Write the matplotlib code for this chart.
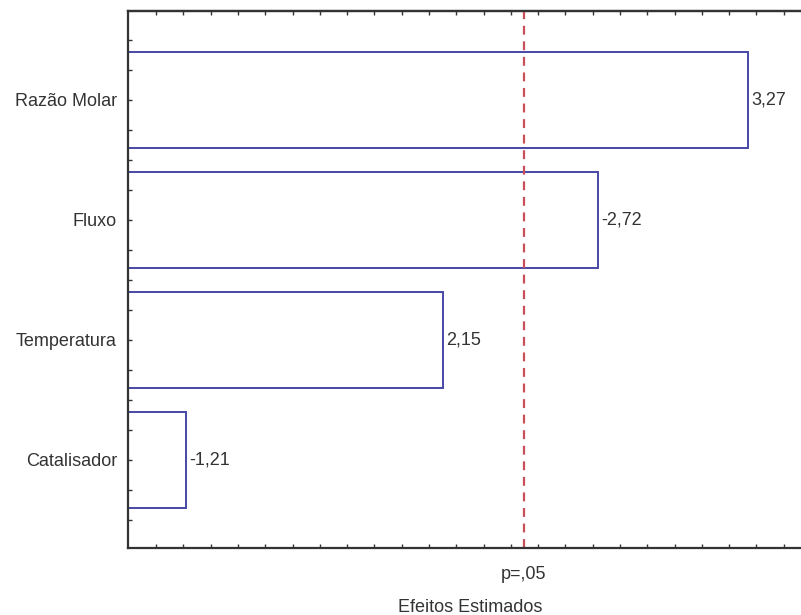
import numpy as np
import matplotlib.pyplot as plt
from matplotlib.ticker import MultipleLocator

# data
fatores = ["Razão Molar", "Fluxo", "Temperatura", "Catalisador"]
efeitos = [3.27, -2.72, 2.15, -1.21]
t_crit = 2.447  # p=,05
rotulos = ["3,27", "-2,72", "2,15", "-1,21"]

plt.rcParams["font.family"] = ["Liberation Sans", "DejaVu Sans"]
txt = "#333333"
fs = 13

fig = plt.figure(figsize=(8.01, 6.15), dpi=100)
ax = fig.add_axes([0.1598, 0.1089, 0.8390, 0.8732])

y = np.arange(len(fatores))
ax.barh(y, np.abs(efeitos), height=0.8, left=0, color="white",
        edgecolor="#4646a6", linewidth=1.4)
for yi, v, lab in zip(y, efeitos, rotulos):
    ax.text(abs(v) + 0.012, yi, lab, va="center", ha="left", fontsize=fs, color=txt)

ax.axvline(t_crit, color="#c9505a", linestyle=(0, (4, 3)), linewidth=1.6)

ax.set_xlim(0.997, 3.46)
ax.set_ylim(3.735, -0.74)

ax.set_yticks(y)
ax.set_yticklabels(fatores, fontsize=fs, color=txt)
ax.yaxis.set_minor_locator(MultipleLocator(0.25))
ax.set_xticks([t_crit])
ax.set_xticklabels(["p=,05"], fontsize=fs, color=txt)
ax.set_xticks(np.arange(1.1, 3.46, 0.1), minor=True)
ax.tick_params(axis="both", which="both", direction="in", length=3, width=1, color="#333333")
ax.tick_params(axis="x", which="major", length=0, pad=13)
ax.tick_params(axis="y", which="major", length=3, pad=8)

# top ticks
top = ax.secondary_xaxis("top")
top.set_xticks(np.arange(1.1, 3.46, 0.1))
top.set_xticklabels([])
top.tick_params(direction="in", length=3, width=1, color="#333333")
top.spines["top"].set_linewidth(1.6)
top.spines["top"].set_color("#333333")

ax.set_xlabel("Efeitos Estimados", fontsize=fs, color=txt)
ax.xaxis.set_label_coords(0.509, -0.095)

for s in ["left", "bottom", "top"]:
    ax.spines[s].set_linewidth(1.6)
    ax.spines[s].set_color("#333333")
ax.spines["right"].set_visible(False)

fig.set_facecolor("white")
fig.savefig("out.png", dpi=100)
